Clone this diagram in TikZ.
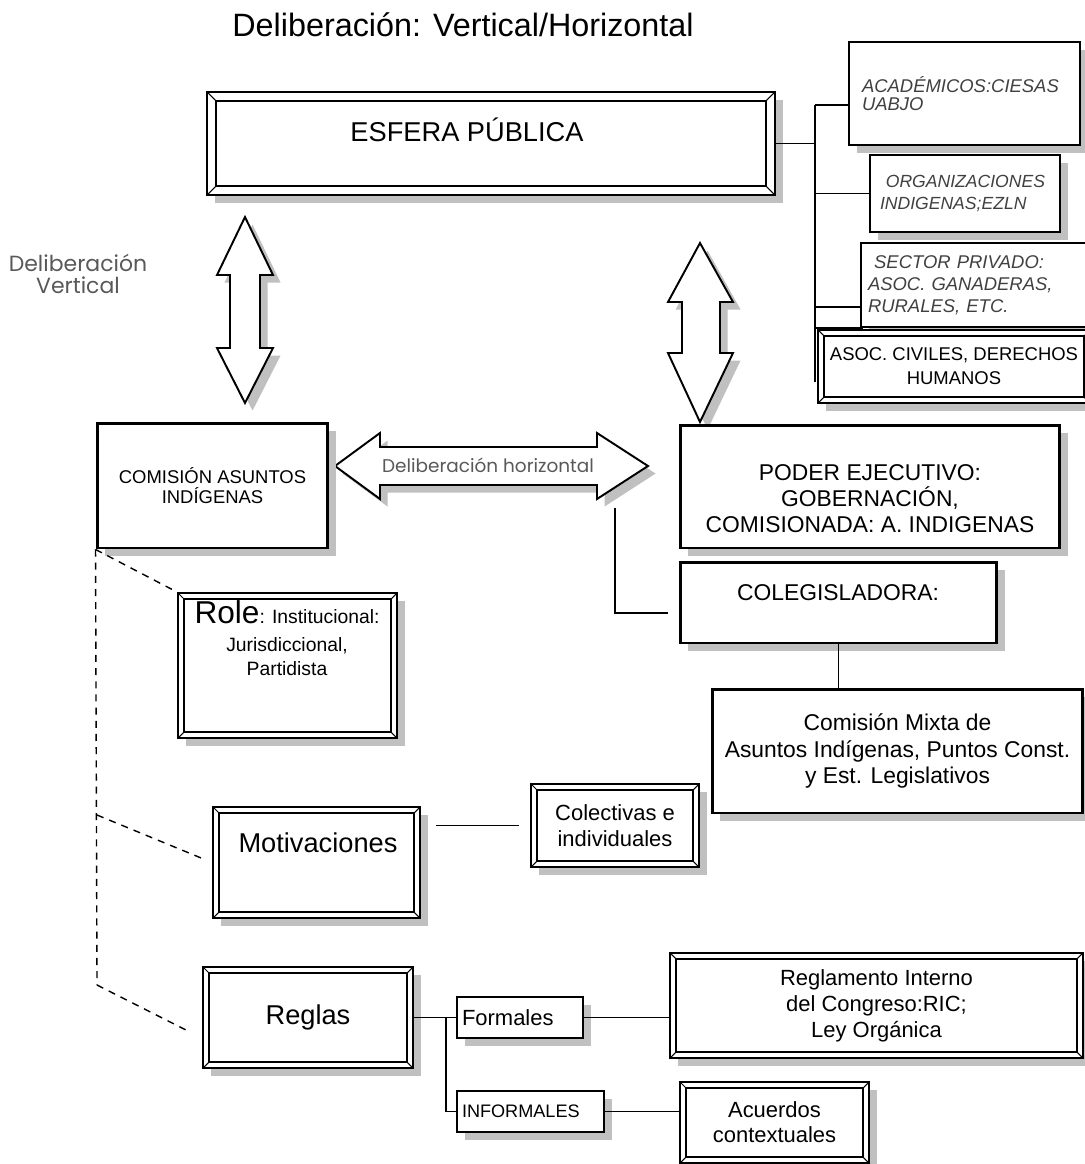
\documentclass[tikz,border=0pt]{standalone}
\usepackage{fontspec}
\setmainfont{Liberation Sans}
\newfontfamily\gotica{Poppins}
\definecolor{sombragris}{HTML}{C0C0C0}
\definecolor{textogris}{HTML}{404040}
\usetikzlibrary{calc, positioning, shadows}

\tikzset{
  marco sep/.store in=\marcosep, marco sep=3.4pt,
  sombra/.style={drop shadow={shadow xshift=4.3pt, shadow yshift=-4.3pt, fill=sombragris, opacity=1}},
  caja/.style={draw, fill=white, line width=1.1pt, inner sep=0pt, align=center, sombra},
  gruesa/.style={caja, line width=1.7pt},
  marco/.style={caja, path picture={
      \draw[line width=1.1pt]
        ([shift={(\marcosep,\marcosep)}]path picture bounding box.south west) rectangle
        ([shift={(-\marcosep,-\marcosep)}]path picture bounding box.north east);
      \foreach \esq/\dx/\dy in {south west/1/1, south east/-1/1, north east/-1/-1, north west/1/-1}
        \draw[line width=0.6pt] (path picture bounding box.\esq) -- ++(\dx*\marcosep, \dy*\marcosep);
    }},
  tam/.style 2 args={minimum width=#1, minimum height=#2},
  linea/.style={line width=0.8pt},
  punteada/.style={linea, dash pattern=on 4pt off 3.5pt},
  flecha/.style={draw, fill=white, line width=1.1pt, sombra},
}

\begin{document}
\begin{tikzpicture}[x=0.02cm, y=-0.02cm]
  \useasboundingbox (0,0) rectangle (1085,1164);

  \node[font=\fontsize{18.4}{20}\selectfont] (titulo) at (463,25) {Deliberación: Vertical/Horizontal};

  % esfera publica y sus actores
  \node[marco, marco sep=5pt, tam={11.36cm}{2.06cm}] (esfera) at (491,143.5) {};
  \node[font=\fontsize{15.5}{18}\selectfont] (esfera-t) at (467,130) {ESFERA PÚBLICA};

  \node[caja, tam={4.62cm}{2.06cm}, text width=4.1cm, inner xsep=0.26cm, align=left,
        font=\fontsize{10.5}{10.3}\selectfont\itshape, text=textogris] (academicos) at (964.5,93.5)
        {ACADÉMICOS:CIESAS\\UABJO};
  \node[caja, tam={3.8cm}{1.54cm}, text width=3.4cm, inner xsep=0.2cm, align=left,
        font=\fontsize{10}{12.5}\selectfont\itshape, text=textogris] (organizaciones) at (965,193.5)
        {\ ORGANIZACIONES\\INDIGENAS;EZLN};
  \node[caja, line width=0.8pt, tam={4.54cm}{1.68cm}, text width=4.26cm, inner xsep=0.14cm, align=left,
        font=\fontsize{10.5}{12.6}\selectfont\itshape, text=textogris] (sector) at (974.5,285)
        {\ SECTOR PRIVADO:\\ASOC. GANADERAS,\\RURALES, ETC.};
  \node[marco, tam={5.44cm}{1.46cm}, font=\fontsize{10.5}{13.6}\selectfont] (asoc) at (954,366.5)
        {ASOC. CIVILES, DERECHOS\\HUMANOS};

  \coordinate (t1) at (815,105);
  \coordinate (t2) at (815,382);
  \coordinate (t3) at (815,307);
  \coordinate (t4) at (815,328);
  \draw[linea] (esfera.east) -- (esfera.east -| t1);
  \draw[linea] (t1) -- (t2);
  \draw[linea] (t1) -- (t1 -| academicos.west);
  \draw[linea] (t1 |- organizaciones.west) -- (organizaciones.west);
  \draw[linea] (t3) -- (t3 -| sector.west);
  \draw[linea] (t4) -- ++(48,0);

  % flechas de deliberacion
  \draw[flecha] (245,217) -- (273,275) -- (260,275) -- (260,348) -- (273,348) -- (245,403)
    -- (217,348) -- (230,348) -- (230,275) -- (217,275) -- cycle;
  \draw[flecha] (700,243) -- (733,302) -- (720,302) -- (720,353) -- (733,353) -- (700,422)
    -- (668,353) -- (682,353) -- (682,302) -- (668,302) -- cycle;
  \draw[flecha] (335,466) -- (380,433) -- (380,447) -- (597,447) -- (597,433) -- (648,466)
    -- (597,499) -- (597,485) -- (380,485) -- (380,499) -- cycle;
  \node[font=\gotica\fontsize{12.5}{12.5}\selectfont, text=black!65, align=center] (vertical) at (78,274)
    {Deliberación\\Vertical};
  \node[font=\gotica\fontsize{10.5}{12}\selectfont, text=black!65] (horizontal) at (488,465)
    {Deliberación horizontal};

  % poderes
  \node[gruesa, tam={4.62cm}{2.5cm}, font=\fontsize{10.5}{11.5}\selectfont] (comision) at (212.5,485.5)
    {COMISIÓN ASUNTOS\\INDÍGENAS};
  \node[gruesa, tam={7.6cm}{2.46cm}] (poder) at (870,486.5) {};
  \node[font=\fontsize{13}{15}\selectfont, align=center] (poder-t) at (870,498.5)
    {PODER EJECUTIVO:\\GOBERNACIÓN,\\COMISIONADA: A. INDIGENAS};
  \node[gruesa, tam={6.34cm}{1.62cm}] (colegis) at (838.5,602.5) {};
  \node[font=\fontsize{13}{15}\selectfont] (colegis-t) at (838,593) {COLEGISLADORA:};
  \node[gruesa, tam={7.42cm}{2.48cm}, font=\fontsize{13}{15}\selectfont] (mixta) at (897.5,751)
    {Comisión Mixta de\\Asuntos Indígenas, Puntos Const.\\y Est. Legislativos};

  \coordinate (k1) at (615,508);
  \coordinate (k2) at (668,613);
  \draw[linea] (k1) |- (k2);
  \draw[linea] (colegis.south) -- (colegis.south |- mixta.north);

  % atributos de la comision
  \node[marco, tam={4.38cm}{2.9cm}] (role) at (287.5,665.5) {};
  \node[font=\fontsize{11}{13.7}\selectfont, align=center] (role-t) at (287,638)
    {{\fontsize{18}{18}\selectfont Role}: Institucional:\\[2pt]Jurisdiccional,\\Partidista};
  \node[marco, tam={4.14cm}{2.22cm}] (moti) at (316.5,862.5) {};
  \node[font=\fontsize{15.5}{18}\selectfont] (moti-t) at (318,843) {Motivaciones};
  \node[marco, tam={3.36cm}{1.66cm}, font=\fontsize{12.5}{15}\selectfont] (colect) at (615,825.5)
    {Colectivas e\\individuales};
  \node[marco, tam={4.2cm}{2.02cm}, font=\fontsize{15.5}{18}\selectfont] (reglas) at (308,1017.5) {Reglas};

  \node[caja, tam={2.52cm}{0.82cm}, text width=2.32cm, inner xsep=0.1cm, align=left,
        font=\fontsize{12.5}{14}\selectfont] (formales) at (520,1017.5) {Formales};
  \node[caja, tam={2.94cm}{0.82cm}, text width=2.74cm, inner xsep=0.1cm, align=left,
        font=\fontsize{10.3}{12}\selectfont] (informales) at (530.5,1111.5) {INFORMALES};
  \node[marco, tam={8.26cm}{2.1cm}, font=\fontsize{12.5}{14.8}\selectfont] (reglamento) at (876.5,1005.5)
    {Reglamento Interno\\del Congreso:RIC;\\Ley Orgánica};
  \node[marco, tam={3.78cm}{1.62cm}, font=\fontsize{12.5}{14.2}\selectfont] (acuerdos) at (774.5,1122.5)
    {Acuerdos\\contextuales};

  \draw[linea, shorten <=8.5pt, shorten >=6.3pt] (moti.east |- colect.west) -- (colect.west);
  \coordinate (r1) at (446,1017.5);
  \draw[linea] (reglas.east) -- (formales.west);
  \draw[linea] (r1) |- (informales.west);
  \draw[linea] (formales.east) -- (formales.east -| reglamento.west);
  \draw[linea] (informales.east) -- (informales.east -| acuerdos.west);

  % lineas punteadas
  \coordinate (d1) at (97,815);
  \coordinate (d2) at (97,985);
  \coordinate (d3) at (186,1030);
  \draw[punteada] (comision.south west) -- (d2);
  \draw[punteada, shorten >=3pt] (comision.south west) -- (role.north west);
  \draw[punteada, shorten >=5pt] (d1) -- (moti.west);
  \draw[punteada] (d2) -- (d3);
\end{tikzpicture}
\end{document}
